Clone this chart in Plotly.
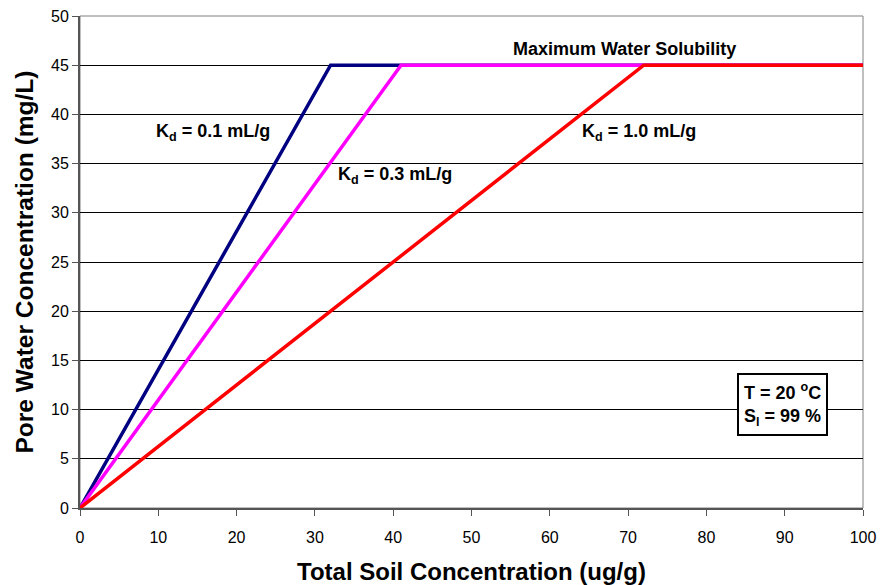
import plotly.graph_objects as go

# Pore water concentration vs. total soil concentration, capped at solubility
soil_kd01 = [0, 32, 100]
water_kd01 = [0, 45, 45]
soil_kd03 = [0, 41, 100]
water_kd03 = [0, 45, 45]
soil_kd10 = [0, 72, 100]
water_kd10 = [0, 45, 45]

x_ticks = [0, 10, 20, 30, 40, 50, 60, 70, 80, 90, 100]
y_ticks = [0, 5, 10, 15, 20, 25, 30, 35, 40, 45, 50]

FONT = "Liberation Sans, Arial, sans-serif"

fig = go.Figure()
for xs, ys, col in [
    (soil_kd01, water_kd01, "#000080"),
    (soil_kd03, water_kd03, "#FF00FF"),
    (soil_kd10, water_kd10, "#FF0000"),
]:
    fig.add_trace(go.Scatter(x=xs, y=ys, mode="lines",
                             line=dict(color=col, width=3.5),
                             showlegend=False, hoverinfo="skip"))

fig.update_layout(
    width=880, height=585,
    margin=dict(l=80, r=17, t=16, b=77),
    paper_bgcolor="white", plot_bgcolor="white",
    font=dict(family=FONT, color="black"),
    xaxis=dict(range=[0, 100], tickvals=x_ticks, showgrid=False, zeroline=False,
               automargin=False,
               showline=True, linecolor="#555555", linewidth=2,
               ticks="outside", ticklen=6, tickcolor="#555555", tickwidth=1,
               ticklabelstandoff=8,
               tickfont=dict(size=16, family=FONT),
               title=dict(text="<b>Total Soil Concentration (ug/g)</b>",
                          font=dict(size=24, family=FONT), standoff=18)),
    yaxis=dict(range=[0, 50], tickvals=y_ticks, showgrid=True, gridcolor="black",
               gridwidth=1, zeroline=False, automargin=False,
               showline=True, linecolor="#555555", linewidth=2,
               ticks="outside", ticklen=6, tickcolor="#555555", tickwidth=1,
               tickfont=dict(size=16, family=FONT),
               title=dict(text="<b>Pore Water Concentration (mg/L)</b>",
                          font=dict(size=24.5, family=FONT), standoff=10)),
)

# plot frame (top and right edges in grey)
fig.add_shape(type="rect", xref="paper", yref="paper", x0=0, x1=1, y0=0, y1=1,
              line=dict(color="#808080", width=1), layer="below")

ann_font = dict(size=18, family=FONT, color="black")
labels = [
    (17, 38.2, "<b>K<sub>d</sub> = 0.1 mL/g</b>"),
    (40.2, 33.8, "<b>K<sub>d</sub> = 0.3 mL/g</b>"),
    (71.4, 38.2, "<b>K<sub>d</sub> = 1.0 mL/g</b>"),
    (69.6, 46.6, "<b>Maximum Water Solubility</b>"),
]
for x, y, t in labels:
    fig.add_annotation(x=x, y=y, text=t, showarrow=False, font=ann_font)

fig.add_annotation(x=89.7, y=10.5, text="<b>T = 20 <sup>o</sup>C<br>S<sub>l</sub> = 99 %</b>",
                   showarrow=False, font=ann_font, align="left",
                   bordercolor="black", borderwidth=2, borderpad=5, bgcolor="white")

fig.write_html("out.html")
